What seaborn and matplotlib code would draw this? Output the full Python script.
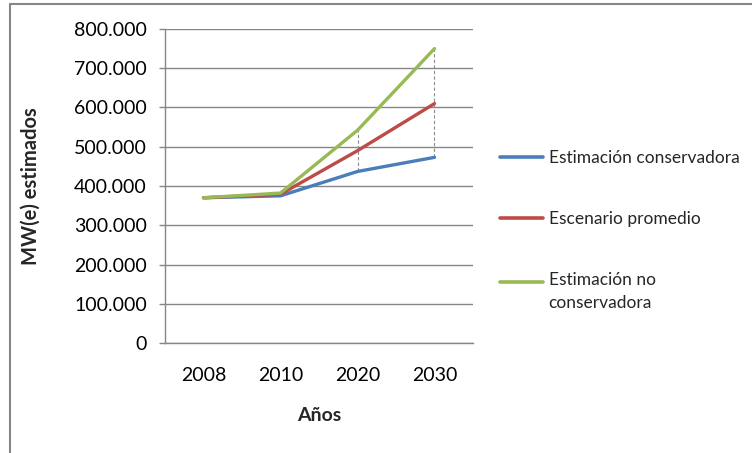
import matplotlib
matplotlib.use("Agg")
import matplotlib.pyplot as plt
from matplotlib.lines import Line2D
from matplotlib.legend_handler import HandlerLine2D
import pandas as pd
import seaborn as sns

# Installed capacity projections, MW(e)
years = ["2008", "2010", "2020", "2030"]
conservadora = [370000, 375000, 437000, 473000]
promedio = [370000, 379000, 490000, 610000]
no_conservadora = [370000, 382000, 542000, 750000]

series_names = ["Estimación conservadora", "Escenario promedio",
                "Estimación no\nconservadora"]
colors = ["#4A7EBB", "#BE4B48", "#98B954"]
y_ticks = list(range(0, 800001, 100000))

df = pd.DataFrame({
    "Año": years * 3,
    "MW": conservadora + promedio + no_conservadora,
    "Serie": [series_names[0]] * 4 + [series_names[1]] * 4 + [series_names[2]] * 4,
})

sns.set_theme(style="white")
plt.rcParams["font.family"] = ["Lato", "DejaVu Sans"]

fig = plt.figure(figsize=(7.52, 4.53), dpi=100)
ax = fig.add_axes([165 / 752, 1 - 343 / 453, 308 / 752, 314 / 453])

# High-low lines between the lowest and highest scenario
ax.vlines(years, conservadora, no_conservadora, colors="#8C8C8C",
          linestyles=(0, (3, 2)), linewidth=0.8, zorder=1)

sns.lineplot(data=df, x="Año", y="MW", hue="Serie", palette=colors,
             sort=False, linewidth=2.4, ax=ax, legend=False, zorder=3)

ax.set_xlim(-0.5, 3.5)
ax.set_ylim(0, 800000)
ax.set_yticks(y_ticks)
ax.set_yticklabels([f"{v:,.0f}".replace(",", ".") for v in y_ticks])
ax.yaxis.grid(True, color="#868686", linewidth=1.0)
ax.xaxis.grid(False)
ax.set_axisbelow(True)

for side in ["top", "right"]:
    ax.spines[side].set_visible(False)
for side in ["left", "bottom"]:
    ax.spines[side].set_color("#868686")
    ax.spines[side].set_linewidth(1.0)

ax.tick_params(axis="y", which="major", left=True, length=4, width=1,
               color="#868686", pad=9, labelsize=14, labelcolor="black")
ax.tick_params(axis="x", length=0, pad=17, labelsize=14, labelcolor="black")

ax.set_xlabel("Años", fontsize=14, fontweight="bold", labelpad=17)
ax.set_ylabel("MW(e) estimados", fontsize=14.5, fontweight="bold", labelpad=24)


class RaisedLine(HandlerLine2D):
    """Line handle aligned with the first row of a two-line label."""

    def __init__(self, shift, **kw):
        super().__init__(**kw)
        self.shift = shift

    def adjust_drawing_area(self, legend, orig_handle, xdescent, ydescent,
                            width, height, fontsize):
        xd, yd, w, h = super().adjust_drawing_area(
            legend, orig_handle, xdescent, ydescent, width, height, fontsize)
        return xd, yd - self.shift, w, h


handles = [Line2D([], [], color=c, linewidth=2.6) for c in colors]
leg = ax.legend(handles, series_names, loc="upper left",
                bbox_to_anchor=(500 / 752, 1 - 150 / 453),
                bbox_transform=fig.transFigure, frameon=False,
                fontsize=12.5, handlelength=2.5, handletextpad=0.3,
                labelspacing=2.6, borderpad=0, borderaxespad=0,
                handler_map={handles[2]: RaisedLine(14)})
for t in leg.get_texts():
    t.set_linespacing(1.5)

# Outer chart-area border
fig.add_artist(Line2D([10 / 752, 10 / 752], [0, 1 - 4 / 453],
                      transform=fig.transFigure, color="#868686", linewidth=1.5))
fig.add_artist(Line2D([10 / 752, 1], [1 - 4 / 453, 1 - 4 / 453],
                      transform=fig.transFigure, color="#868686", linewidth=1.5))

fig.savefig("out.png", dpi=100)
